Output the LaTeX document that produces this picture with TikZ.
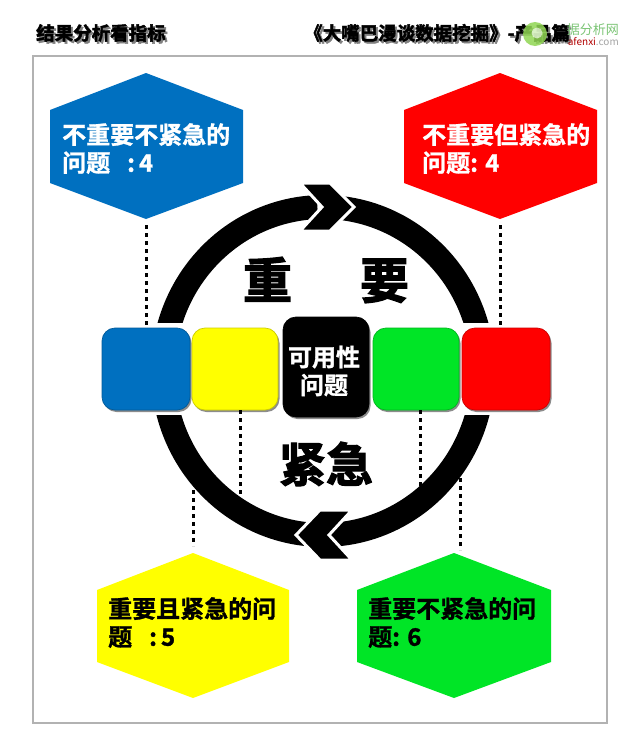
\documentclass[tikz,border=0pt]{standalone}
\usepackage{fontspec}
\setmainfont{Noto Sans CJK SC}
\newfontfamily\cjkb{Noto Sans CJK SC Bold}[FakeBold=1.2]
\newfontfamily\cjkh{Noto Sans CJK SC Bold}[FakeBold=2.5]
\newfontfamily\cjkl{Noto Sans CJK SC}
\definecolor{cblue}{HTML}{0070C0}
\definecolor{cyel}{HTML}{FFFF00}
\definecolor{cgreen}{HTML}{00E526}
\definecolor{cred}{HTML}{FF0000}
\definecolor{wmgreen}{HTML}{7CC576}
\newcommand{\colonsp}{\hspace{17pt}:\hspace{4pt}}
\tikzset{
  x=1pt,y=-1pt,
  hexlabel/.style={anchor=north west,align=left,inner sep=0pt,font=\fontsize{24}{28}\selectfont\cjkb},
  topfont/.style={anchor=west,inner sep=0pt,text=black,font=\fontsize{18.5}{18.5}\selectfont\cjkh},
  sq/.style={minimum width=88pt,minimum height=82pt,rounded corners=13pt,inner sep=0pt,draw=#1!80!black,line width=.7pt,fill=#1,
     preaction={draw=none,fill=black!45,transform canvas={xshift=1.5pt,yshift=-2pt}}},
  dots/.style={line width=3pt,dash pattern=on 4pt off 4pt,black},
  ring/.style={line width=24pt,black},
  chev/.style={fill=black,draw=white,line width=3pt},
}
\begin{document}
\begin{tikzpicture}
\useasboundingbox (0,0) rectangle (640,739);
\fill[white] (0,0) rectangle (640,739);
% frame
\draw[black!30,line width=2.5pt] (33,56) rectangle (607,723);
% titles
\node[topfont,text=black!50] at (38,35) {结果分析看指标};
\node[topfont,text=black!50] at (306,35) {《大嘴巴漫谈数据挖掘》-产品篇};
\node[topfont] (ttl) at (36,33) {结果分析看指标};
\node[topfont] (ttr) at (304,33) {《大嘴巴漫谈数据挖掘》-产品篇};
% watermark
\fill[wmgreen!70!lime,opacity=.85] (535,34) circle[radius=12];
\fill[white,opacity=.6] (537,33) circle[radius=5.5];
\node[anchor=east,inner sep=0pt,text=wmgreen,font=\fontsize{13}{13}\selectfont\cjkl] (wm) at (619,30) {据分析网};
\node[anchor=east,inner sep=0pt,text=black!35,font=\fontsize{10}{10}\selectfont\cjkl] (wm2) at (619,42) {\textcolor{red!70!black}{afenxi}.com};
% ring
\draw[ring] plot[smooth,domain=178:92,samples=50] ({323+160*cos(\x)},{371-164*sin(\x)});
\draw[ring] plot[smooth,domain=2:86,samples=50] ({323+160*cos(\x)},{371-164*sin(\x)});
\draw[ring] plot[smooth,domain=182:266,samples=50] ({323+160*cos(\x)},{371-164*sin(\x)});
\draw[ring] plot[smooth,domain=-2:-88,samples=50] ({323+160*cos(\x)},{371-164*sin(\x)});
\fill[white] (140,323) rectangle (510,415);
% chevrons
\path[chev] (300,183) -- (330,183) -- (354,207) -- (330,231) -- (300,231) -- (322,207) -- cycle;
\path[chev] (352,510) -- (320,510) -- (296,535) -- (320,560) -- (352,560) -- (329,535) -- cycle;
% hexagons
\fill[cblue] (146,73) -- (243,110) -- (243,183) -- (146,219) -- (50,183) -- (50,110) -- cycle;
\fill[cred] (500,73) -- (597,110) -- (597,183) -- (500,219) -- (404,183) -- (404,110) -- cycle;
\fill[cyel] (193,553) -- (289,590) -- (289,662) -- (193,698) -- (97,662) -- (97,590) -- cycle;
\fill[cgreen] (454,553) -- (551,590) -- (551,662) -- (454,698) -- (357,662) -- (357,590) -- cycle;
\node[hexlabel,text=white] (hb) at (62,123) {不重要不紧急的\\问题\colonsp 4};
\node[hexlabel,text=white] (hr) at (422,123) {不重要但紧急的\\问题: 4};
\node[hexlabel] (hy) at (108,597) {重要且紧急的问\\题\colonsp 5};
\node[hexlabel] (hg) at (368,597) {重要不紧急的问\\题: 6};
% anchor coordinates
\coordinate (bt) at (146,225); \coordinate (rt) at (500,225);
\coordinate (yt) at (193,490); \coordinate (ye) at (193,546);
\coordinate (gt) at (460,478); \coordinate (ge) at (460,550);
\coordinate (y2) at (240,500); \coordinate (g2) at (420,486);
% dotted connectors
\draw[dots] (yt) -- (ye);
\draw[dots] (gt) -- (ge);
% squares
\node[sq=cblue] (sb) at (146,369) {};
\node[sq=cyel,minimum width=86pt] (sy) at (235,369) {};
\node[sq=cgreen,minimum width=86pt] (sg) at (416,369) {};
\node[sq=cred] (sr) at (506,369) {};
\node[sq=black,minimum width=86pt,minimum height=100pt] (sk) at (326,367) {};
\node[inner sep=0pt,text=white,align=center,font=\fontsize{24}{28}\selectfont\cjkb] (skt) at (324,371) {可用性\\问题};
\draw[dots] (bt) -- (sb.north -| bt);
\draw[dots] (rt) -- (sr.north -| rt);
\draw[dots] (sy.south -| y2) -- (y2);
\draw[dots] (sg.south -| g2) -- (g2);
% big labels
\node[inner sep=0pt,font=\fontsize{49}{49}\selectfont\cjkh] (zy) at (326,280) {重\hspace{68pt}要};
\node[inner sep=0pt,font=\fontsize{47}{47}\selectfont\cjkh] (jj) at (326,464) {紧急};
\end{tikzpicture}
\end{document}
